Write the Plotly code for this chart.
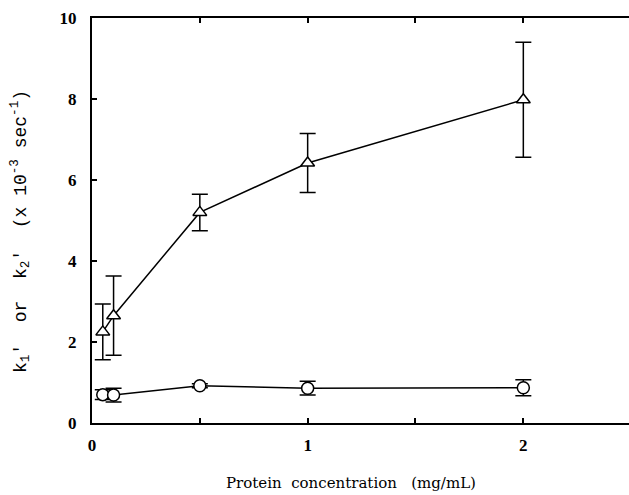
import plotly.graph_objects as go

# Protein concentration (mg/mL)
conc = [0.05, 0.1, 0.5, 1.0, 2.0]

# k1' (triangles) and k2' (circles), x 10^-3 sec^-1
k1 = [2.25, 2.65, 5.2, 6.42, 7.98]
k1_err = [0.69, 0.98, 0.45, 0.73, 1.42]
k2 = [0.70, 0.69, 0.92, 0.86, 0.87]
k2_err = [0.12, 0.17, 0.05, 0.17, 0.20]

x_tickvals = [0, 1, 2]
x_ticktext = ["0", "1", "2"]
y_tickvals = [0, 2, 4, 6, 8, 10]
y_ticktext = ["0", "2", "4", "6", "8", "10"]

SERIF = "Liberation Serif, Times New Roman, serif"
WIDE_SERIF = "DejaVu Serif, serif"
MONO = "Liberation Mono, Courier New, monospace"

fig = go.Figure()

def add_series(y, err, symbol):
    fig.add_trace(go.Scatter(
        x=conc, y=y,
        mode="lines+markers",
        line=dict(color="black", width=1.5),
        marker=dict(symbol=symbol, size=12, color="white",
                    line=dict(color="black", width=1.5)),
        error_y=dict(type="data", array=err, visible=True,
                     color="black", thickness=1.5, width=8),
        showlegend=False,
        cliponaxis=False,
    ))

add_series(k2, k2_err, "circle")
add_series(k1, k1_err, "triangle-up")

fig.update_layout(
    width=629, height=495,
    margin=dict(l=92, r=0, t=18, b=72),
    plot_bgcolor="white", paper_bgcolor="white",
    font=dict(family=SERIF, color="black"),
    xaxis=dict(
        range=[0, 2.49],
        tickvals=x_tickvals, ticktext=x_ticktext,
        ticks="inside", ticklen=5, tickwidth=1.5, tickcolor="black",
        minor=dict(dtick=0.5, tick0=0, ticks="inside", ticklen=5,
                   tickwidth=1.5, tickcolor="black", showgrid=False),
        showline=True, linecolor="black", linewidth=2,
        mirror="ticks", showgrid=False, zeroline=False,
        tickfont=dict(family=SERIF, size=17, weight="bold"),
        ticklabelstandoff=6,
    ),
    yaxis=dict(
        range=[0, 10],
        tickvals=y_tickvals, ticktext=y_ticktext,
        ticks="inside", ticklen=5, tickwidth=1.5, tickcolor="black",
        showline=True, linecolor="black", linewidth=2,
        mirror=False, showgrid=False, zeroline=False,
        tickfont=dict(family=SERIF, size=17, weight="bold"),
        ticklabelstandoff=10,
    ),
)

fig.add_annotation(
    text="Protein  concentration   (mg/mL)",
    xref="paper", yref="paper",
    x=(351 - 92) / 537, y=(423 - 483) / 405,
    xanchor="center", yanchor="middle",
    showarrow=False,
    font=dict(family=WIDE_SERIF, size=15),
)

fig.add_annotation(
    text="k<sub>1</sub>'  or  k<sub>2</sub>'  (x 10<sup>-3</sup> sec<sup>-1</sup>)",
    xref="paper", yref="paper",
    x=(21 - 92) / 537, y=(423 - 232) / 405,
    xanchor="center", yanchor="middle",
    textangle=-90,
    showarrow=False,
    font=dict(family=MONO, size=18),
)

fig.write_html("out.html")
